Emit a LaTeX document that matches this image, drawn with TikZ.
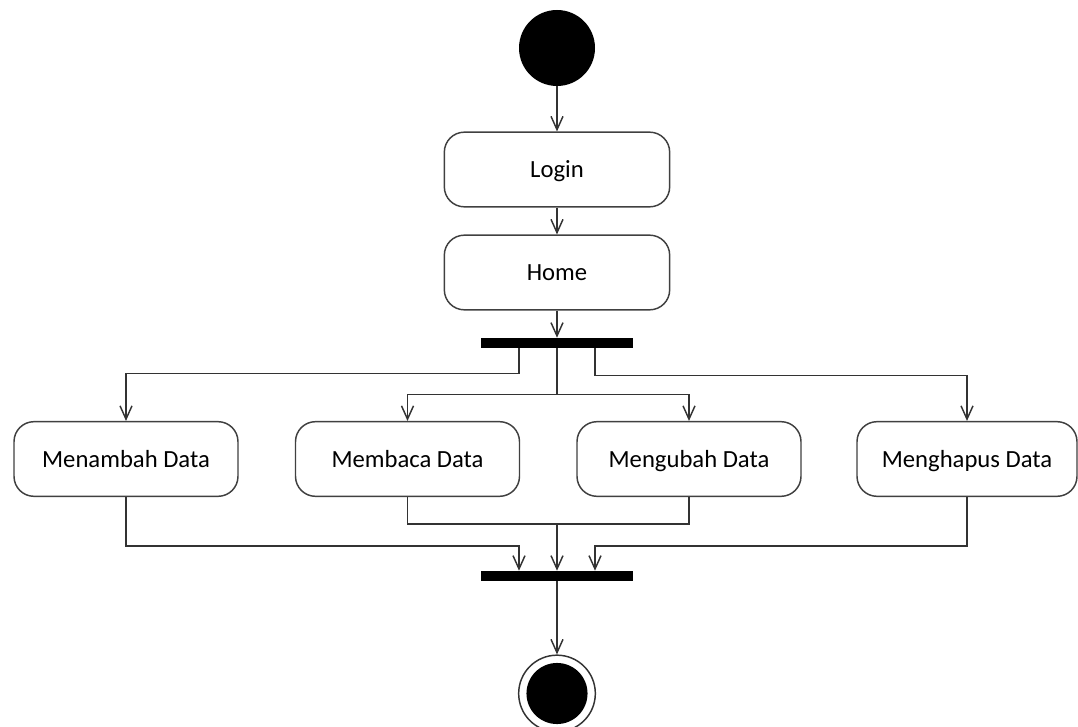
\documentclass[tikz,border=0pt]{standalone}
\usepackage{fontspec}
\setmainfont{Carlito}
\usetikzlibrary{arrows.meta}
\begin{document}
\begin{tikzpicture}[x=0.75pt,y=-0.75pt,
  act/.style={draw=black!75, line width=1.1pt, rounded corners=15pt, fill=white,
    minimum height=56pt, inner sep=0pt, text height=13pt, text depth=1pt,
    font=\fontsize{18.5}{22}\selectfont},
  bar/.style={fill=black, minimum width=114pt, minimum height=7.5pt, inner sep=0pt},
  startnode/.style={circle, fill=black, minimum size=57pt, inner sep=0pt},
  endnode/.style={circle, draw=black!80, line width=1.1pt, fill=white, minimum size=57.5pt, inner sep=0pt},
  link/.style={draw=black!80, line width=1.1pt},
  flow/.style={link, -{Straight Barb[length=10pt,width=9pt,line width=1.1pt]}}]
  \useasboundingbox (0,0) rectangle (1078,727);

  % nodes
  \node[startnode] (start) at (557,48) {};
  \node[act, minimum width=169pt] (login) at (557,169.5) {Login};
  \node[act, minimum width=169pt] (home) at (557,272.5) {Home};
  \node[bar] (fork) at (557,343) {};
  \node[act, minimum width=168pt] (add) at (126,459) {Menambah Data};
  \node[act, minimum width=168pt] (read) at (407.5,459) {Membaca Data};
  \node[act, minimum width=168pt] (upd) at (689,459) {Mengubah Data};
  \node[act, minimum width=165pt] (del) at (967,459) {Menghapus Data};
  \node[bar] (join) at (557,576) {};
  \node[endnode] (end) at (557,693.5) {};
  \fill (end.center) circle[radius=22.9pt];

  % sequential flow
  \draw[flow] (start) -- (login);
  \draw[flow] (login) -- (home);
  \draw[flow] (home) -- (fork);

  % fork branches
  \draw[flow] ([xshift=-28.5pt]fork.south) -- ++(0,25) -| (add.north);
  \draw[flow] ([xshift=28.5pt]fork.south) -- ++(0,27) -| (del.north);
  \draw[link] (fork.south) -- ++(0,46) coordinate (fc);
  \draw[flow] (fc) -| (read.north);
  \draw[flow] (fc) -| (upd.north);

  % join branches
  \draw[link] (read.south) -- ++(0,27) coordinate (jl) -| (upd.south);
  \draw[flow] (jl -| join.north) -- (join.north);
  \draw[flow] (add.south) -- ++(0,49) -| ([xshift=-28.5pt]join.north);
  \draw[flow] (del.south) -- ++(0,49) -| ([xshift=28.5pt]join.north);

  % final
  \draw[flow] (join.south) -- (end.north);
\end{tikzpicture}
\end{document}
